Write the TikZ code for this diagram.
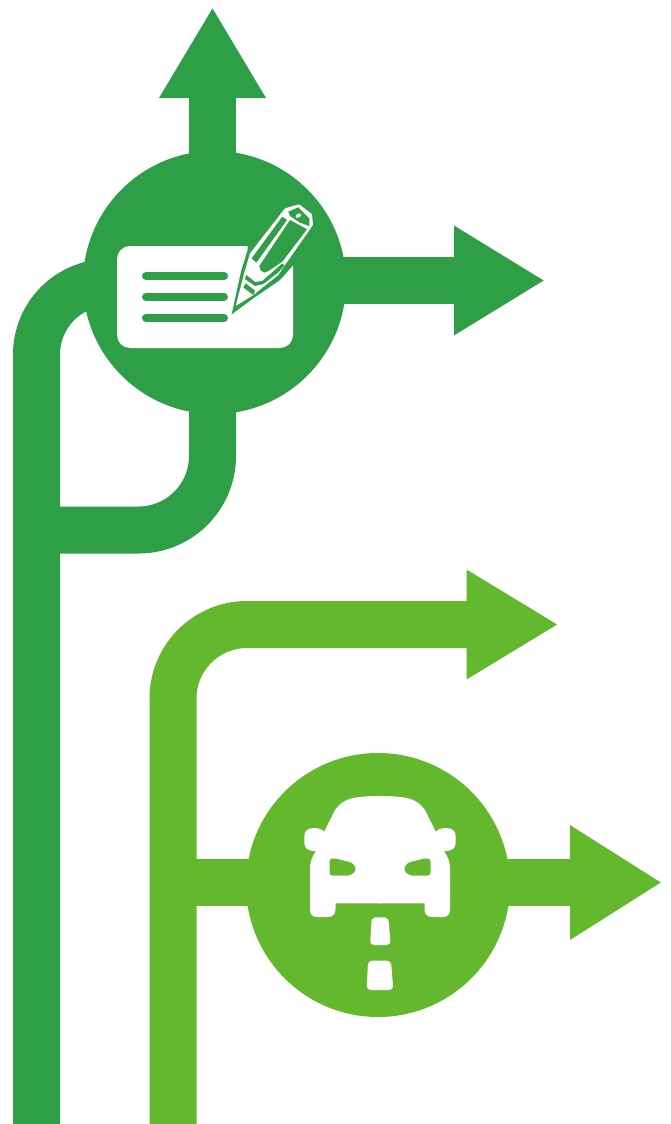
\documentclass[tikz,border=0pt]{standalone}
\usepackage{xcolor}
\usetikzlibrary{calc,arrows.meta}
\definecolor{routeDark}{RGB}{46,158,71}
\definecolor{routeLight}{RGB}{100,184,45}
\tikzset{
    route/.style={line width=47pt},
    hubdisc/.style={circle,inner sep=0pt,minimum size=263pt}
}

\begin{document}
\begin{tikzpicture}[x=1pt,y=-1pt]
\useasboundingbox (0,0) rectangle (670,1124);

% named positions
\coordinate (tipUp) at (212.5,7);
\coordinate (tipRight) at (545,280.5);
\coordinate (trunkDark) at (36.5,1124);
\coordinate (bendDark) at (212.5,530);
\coordinate (trunkLight) at (173,1124);
\coordinate (tipTop) at (558.5,624.5);
\coordinate (tipCar) at (662,882.5);

% dark green routes
\node[hubdisc,fill=routeDark] (hub) at (214.5,282.5) {};
\draw[routeDark,route,-{Triangle[length=91pt,width=100pt]}] (tipUp |- hub) -- (tipUp);
\draw[routeDark,route,-{Triangle[length=91pt,width=103pt]}] (tipRight -| hub) -- (tipRight);
\draw[routeDark,route,rounded corners=72pt] (trunkDark) -- (trunkDark |- hub) -- (hub.center);
\draw[routeDark,route,rounded corners=74pt] (bendDark |- hub) -- (bendDark) -- (bendDark -| trunkDark);

% light green routes
\node[hubdisc,fill=routeLight,minimum size=264pt] (carhub) at (378,885) {};
\draw[routeLight,route,rounded corners=74pt,-{Triangle[length=92pt,width=103pt]}] (trunkLight) -- (trunkLight |- tipTop) -- (tipTop);
\draw[routeLight,route,-{Triangle[length=92pt,width=108pt]}] (tipCar -| trunkLight) -- (tipCar);

% note sheet
\fill[white,rounded corners=13pt] (117,246) rectangle (293,348);
\foreach \y in {276.3,297,317.7}
{
    \draw[routeDark,line width=8pt,line cap=round] (146,\y) -- (224,\y);
}

% pencil, in 1/3 pixel steps
\begin{scope}[shift={(225,200)},x=0.3333pt,y=-0.3333pt]
\fill[routeDark] (20,343) -- (48,215) -- (68,150) -- (68,130) -- (230,130) -- (230,190) -- (205,195) -- (165,240) -- (85,295) -- cycle;
\fill[white,rounded corners=1pt] (32,318) -- (58,218) -- (75,160) -- (180,25) -- (222,13) -- (261,42) -- (264,75) -- (180,195) -- (160,225) -- (85,285) -- cycle;
\fill[routeDark] (80,175) -- (172,50) -- (186,60) -- (94,188) -- cycle;
\fill[routeDark] (103,198) -- (195,60) -- (246,88) -- (172,185) -- (132,212) -- (118,218) -- (106,210) -- cycle;
\fill[routeDark] (64,225) -- (90,246) -- (112,243) -- (172,190) -- (178,197) -- (160,217) -- (115,252) -- (90,258) -- (60,237) -- cycle;
\fill[routeDark] (190,35) -- (220,22) -- (253,55) -- (253,78) -- (225,68) -- (195,48) -- cycle;
\fill[white,rotate around={30:(220,47)}] (220,47) ellipse (9 and 5.5);
\fill[routeDark] (55,262) -- (62,250) -- (90,272) -- (85,285) -- cycle;
\end{scope}

% car
\foreach \side in {1,-1}
{
    \begin{scope}[shift={(380,0)},xscale=\side]
    \fill[white] (-1,796) -- (0,796) .. controls (30,796) and (38,800) .. (45,810) -- (55.7,831.7) .. controls (58,829) and (62,828) .. (66,828) .. controls (72,828) and (75.7,831) .. (75.7,836) -- (75.7,843) .. controls (75.7,848) and (72,851) .. (66,851) -- (64,851) .. controls (68,857) and (70,862) .. (70,868) -- (70,909) .. controls (70,914) and (68,917) .. (63,917) -- (52,917) .. controls (47,917) and (44.5,914) .. (44.5,909) -- (44.5,903.3) -- (-1,903.3) -- cycle;
    \fill[routeLight,rounded corners=3pt] (44,858.5) -- (50.5,858.5) -- (50.5,875.5) -- (29,875.5) -- (23.5,869.5) -- (27,863) -- cycle;
    \end{scope}
}

% road marks
\fill[white,rounded corners=4pt] (371.7,917.3) -- (388.3,917.3) -- (390.7,945) -- (370,945) -- cycle;
\fill[white,rounded corners=4pt] (368,960.7) -- (391,960.7) -- (393.3,990) -- (366.7,990) -- cycle;
\end{tikzpicture}
\end{document}
